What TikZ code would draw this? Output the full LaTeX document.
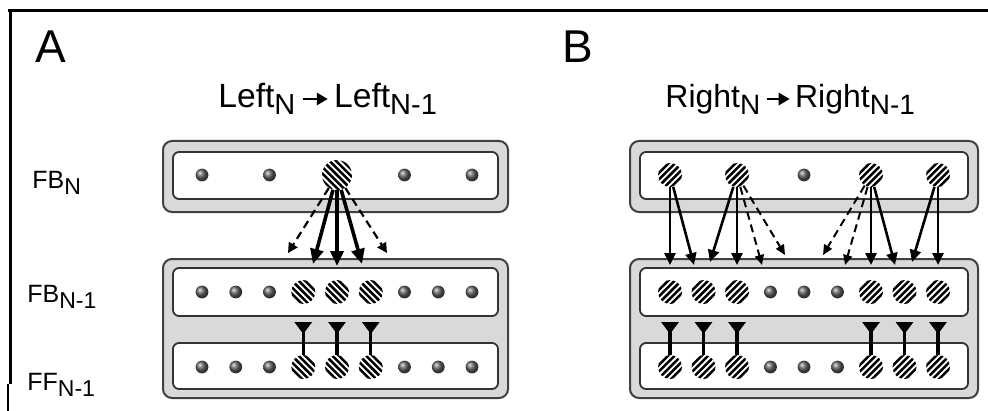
\documentclass[tikz,border=0pt]{standalone}
\usepackage{fontspec}
\setmainfont{Liberation Sans}
\usetikzlibrary{arrows.meta,calc}
% lowered subscript in the current font
\newcommand\lowsub[3]{\raisebox{-#1}{\fontsize{#2}{#2}\selectfont #3}}

\begin{document}
\begin{tikzpicture}[x=0.5pt,y=-0.5pt,
  outerbox/.style={draw=black!75, line width=1pt, fill=black!15, rounded corners=4.5pt},
  innerbox/.style={draw=black!80, line width=0.9pt, fill=white, rounded corners=3pt},
  dot/.style={circle, inner sep=0pt, minimum size=6.4pt, shading=ball, ball color=black!62},
  hatch/.style 2 args={circle, inner sep=0pt, minimum size=#1, fill=white,
    path picture={\foreach \k in {-7,...,7}{
      \draw[line width=1.25pt]
        ([shift={(\k*6.6,0)}]path picture bounding box.center)
        ++(-25,-25*#2) -- ++(50,50*#2);}}},
  hA/.style={hatch={12pt}{1}},
  hAbig/.style={hatch={15pt}{1}},
  hB/.style={hatch={12pt}{-1}},
  sA/.style={line width=1.8pt, -{Triangle[length=7.5pt,width=6.5pt]}},
  dA/.style={line width=1.1pt, dash pattern=on 4pt off 2.5pt, -{Triangle[length=5pt,width=5pt]}},
  sB/.style={line width=1.3pt, -{Triangle[length=6pt,width=5.5pt]}},
  dB/.style={line width=1pt, dash pattern=on 4pt off 2.5pt, -{Triangle[length=5pt,width=4.5pt]}},
  syn/.style={line width=1.6pt, -{Triangle[reversed,length=6pt,width=8.5pt]}},
  titletext/.style={font=\fontsize{16}{16}\selectfont, anchor=base west, inner sep=0pt},
  titlearrow/.style={line width=1.4pt, -{Triangle[length=5.5pt,width=6pt]}},
  paneltext/.style={font=\fontsize{23}{23}\selectfont, inner sep=0pt},
  rowtext/.style={font=\fontsize{12.5}{12.5}\selectfont, anchor=base west, inner sep=0pt}
]
\useasboundingbox (0,0) rectangle (988,411);

% frame
\draw[line width=1.5pt] (8,11) -- (988,11);
\draw[line width=1.5pt] (10,10.25) -- (10,384);
\draw[line width=1pt] (8,384) -- (8,411);

% panel letters and titles
\node[paneltext] (pA) at (51,47) {A};
\node[paneltext] (pB) at (578,47) {B};
\node[titletext, font=\fontsize{16.8}{16.8}\selectfont] (tA1) at (218,108) {Left\lowsub{3.5pt}{14.5}{N}};
\node[titletext, font=\fontsize{16.8}{16.8}\selectfont] (tA2) at ($(tA1.base east)+(38,0)$) {Left\lowsub{3.5pt}{14.5}{N-1}};
\draw[titlearrow] ($(tA1.base east)+(7,-9)$) -- ($(tA2.base west)+(-6,-9)$);
\node[titletext] (tB1) at (665,108) {Right\lowsub{3.5pt}{14}{N}};
\node[titletext] (tB2) at ($(tB1.base east)+(34,0)$) {Right\lowsub{3.5pt}{14}{N-1}};
\draw[titlearrow] ($(tB1.base east)+(6,-9)$) -- ($(tB2.base west)+(-5,-9)$);

% row labels
\node[rowtext] (lFBN) at (32,188) {FB\lowsub{3pt}{11.5}{N}};
\node[rowtext] (lFBM) at (27,302) {FB\lowsub{3pt}{11.5}{N-1}};
\node[rowtext] (lFFM) at (27,390) {FF\lowsub{3pt}{11.5}{N-1}};

% layer boxes
\draw[outerbox] (163,141) rectangle (508,212);
\draw[innerbox] (173,152) rectangle (498,199);
\draw[outerbox] (163,259) rectangle (508,398);
\draw[innerbox] (173,268) rectangle (498,316);
\draw[innerbox] (173,343) rectangle (498,389);

\draw[outerbox] (630,141) rectangle (978,212);
\draw[innerbox] (640,152) rectangle (968,199);
\draw[outerbox] (630,259) rectangle (978,398);
\draw[innerbox] (640,268) rectangle (968,316);
\draw[innerbox] (640,343) rectangle (968,389);

% panel A units
\foreach \i in {1,3,7,9} \node[dot] (aT\i) at ({202+33.75*(\i-1)},175) {};
\node[hAbig] (aT5) at (337,175) {};
\foreach \i in {1,2,3,7,8,9}{
  \node[dot] (aM\i) at ({202+33.75*(\i-1)},292) {};
  \node[dot] (aF\i) at ({202+33.75*(\i-1)},367) {};
}
\foreach \i in {4,5,6}{
  \node[hA] (aM\i) at ({202+33.75*(\i-1)},292) {};
  \node[hA] (aF\i) at ({202+33.75*(\i-1)},367) {};
}

% panel B units
\node[dot] (bT5) at (804,175) {};
\foreach \i in {1,3,7,9} \node[hB] (bT\i) at ({670+33.5*(\i-1)},175) {};
\foreach \i in {4,5,6}{
  \node[dot] (bM\i) at ({670+33.5*(\i-1)},292) {};
  \node[dot] (bF\i) at ({670+33.5*(\i-1)},367) {};
}
\foreach \i in {1,2,3,7,8,9}{
  \node[hB] (bM\i) at ({670+33.5*(\i-1)},292) {};
  \node[hB] (bF\i) at ({670+33.5*(\i-1)},367) {};
}

% panel A descending projections
\coordinate (aE1) at (288,253);
\coordinate (aE2) at (313,264);
\coordinate (aE3) at (337,266);
\coordinate (aE4) at (362,264);
\coordinate (aE5) at (387,253);
\draw[dA] (aT5) -- (aE1);
\draw[sA] (aT5) -- (aE2);
\draw[sA] (aT5) -- (aE3);
\draw[sA] (aT5) -- (aE4);
\draw[dA] (aT5) -- (aE5);

% panel B descending projections
\coordinate (bE1) at (670,265);
\coordinate (bE2) at (694,265);
\coordinate (bE3) at (710,262);
\coordinate (bE4) at (737,265);
\coordinate (bE5) at (762,265);
\coordinate (bE6) at (785,255);
\coordinate (bE7) at (823,255);
\coordinate (bE8) at (845,265);
\coordinate (bE9) at (871,265);
\coordinate (bE10) at (895,265);
\coordinate (bE11) at (912,262);
\coordinate (bE12) at (938,265);
\draw[sB] (bT1) -- (bE1);
\draw[sB] (bT1) -- (bE2);
\draw[sB] (bT3) -- (bE3);
\draw[sB] (bT3) -- (bE4);
\draw[dB] (bT3) -- (bE5);
\draw[dB] (bT3) -- (bE6);
\draw[dB] (bT7) -- (bE7);
\draw[dB] (bT7) -- (bE8);
\draw[sB] (bT7) -- (bE9);
\draw[sB] (bT7) -- (bE10);
\draw[sB] (bT9) -- (bE11);
\draw[sB] (bT9) -- (bE12);

% feedforward-to-feedback synapses
\foreach \i in {4,5,6}{
  \coordinate (aS\i) at ({202+33.75*(\i-1)},322);
  \draw[syn] (aF\i) -- (aS\i);
}
\foreach \i in {1,2,3,7,8,9}{
  \coordinate (bS\i) at ({670+33.5*(\i-1)},322);
  \draw[syn] (bF\i) -- (bS\i);
}
\end{tikzpicture}
\end{document}
